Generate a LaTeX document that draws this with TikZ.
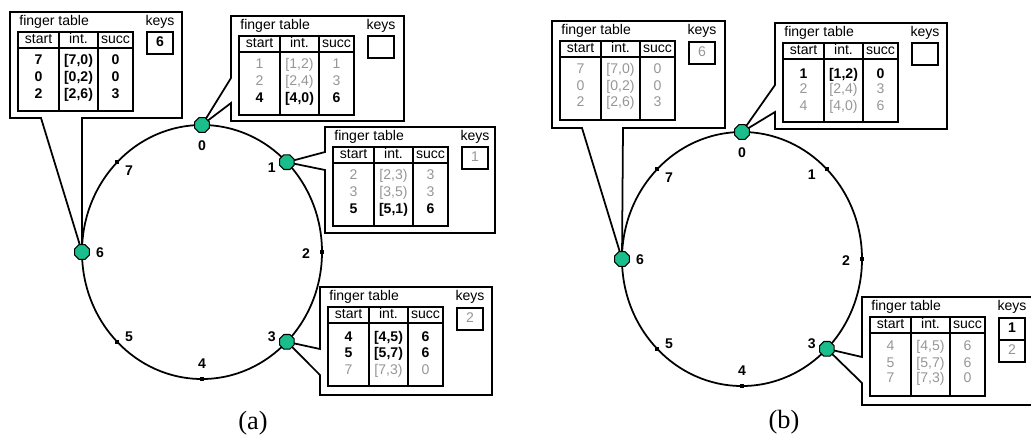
\documentclass[tikz,border=0pt]{standalone}
\usepackage{fontspec}
\setmainfont{Liberation Serif}
\setsansfont{Liberation Sans}
\usetikzlibrary{shapes.geometric}
\definecolor{peergreen}{RGB}{25,190,140}
\definecolor{oldgray}{RGB}{150,150,150}
\tikzset{
  ringline/.style={line width=1pt},
  boxline/.style={line width=1pt, line join=miter},
  gridline/.style={line width=0.9pt},
  headline/.style={line width=1.6pt},
  txt/.style={font=\sffamily\fontsize{8}{9}\selectfont, inner sep=0pt, text height=5.8pt, text depth=1.6pt},
  newv/.style={txt, font=\sffamily\bfseries\fontsize{8}{9}\selectfont},
  oldv/.style={txt, text=oldgray},
  idlabel/.style={newv},
  peer/.style={regular polygon, regular polygon sides=8, draw, line width=0.6pt,
    fill=peergreen, minimum size=9pt, inner sep=0pt},
  tick/.style={rectangle, fill=black, minimum size=2.2pt, inner sep=0pt},
  caption/.style={font=\rmfamily\fontsize{15}{17}\selectfont, inner sep=0pt}
}
% ring of identifiers 0..7: #1 name, #2/#3 centre
\newcommand{\ringlayout}[3]{%
  \draw[ringline] (#2,#3) ellipse [x radius=120, y radius=127];
  \foreach \k/\dx/\dy in {0/0/22, 1/-15/7, 2/-16/3, 3/-15/-4, 4/0/-14, 5/12/-4, 6/18/2, 7/12/10}{
    \coordinate (#1-p\k) at ({#2+120*cos(90-45*\k)},{#3-127*sin(90-45*\k)});
    \node[idlabel] (#1-l\k) at ([shift={(\dx,\dy)}]#1-p\k) {\k};
  }}
% finger table frame: #1 name, #2/#3 top left corner, #4 rows and keys
\newcommand{\ftable}[4]{%
  \begin{scope}[shift={(#2,#3)}]
    \node[txt, anchor=west] (#1-title) at (9,10) {finger table};
    \node[txt] (#1-keys) at (150,10) {keys};
    \draw[gridline] (8,20) rectangle (123,99) (49,20) -- (49,99) (88,20) -- (88,99);
    \draw[headline] (8,36) -- (123,36);
    \node[txt] (#1-start) at (28.5,28) {start};
    \node[txt] (#1-int) at (68.5,28) {int.};
    \node[txt] (#1-succ) at (105.5,28) {succ};
    #4
  \end{scope}}
% one finger: name, y, style, start, interval, successor
\newcommand{\frow}[6]{%
  \node[#3] (#1-s) at (28.5,#2) {#4};
  \node[#3] (#1-i) at (68.5,#2) {#5};
  \node[#3] (#1-c) at (105.5,#2) {#6};}
% one key cell: name, top, style, key
\newcommand{\fkey}[4]{%
  \draw[gridline] (137,#2) rectangle (163,#2+22);
  \node[#3] (#1) at (150,#2+11) {#4};}

\begin{document}
\begin{tikzpicture}[x=0.02cm, y=-0.02cm]
  \useasboundingbox (0,0) rectangle (1031,441);
  \clip (0,0) rectangle (1031,441);
  %
  % (a) after node 6 joins
  \ringlayout{a}{202}{252}
  \draw[boxline] (a-p6) -- (41,118) -- (10,118) -- (10,12) -- (182,12) -- (182,118) -- (82,118) -- cycle;
  \draw[boxline] (a-p0) -- (231,78) -- (231,16) -- (404,16) -- (404,121) -- (231,121) -- (231,103) -- cycle;
  \draw[boxline] (a-p1) -- (325,152) -- (325,127) -- (495,127) -- (495,233) -- (325,233) -- (325,170) -- cycle;
  \draw[boxline] (a-p3) -- (320,349) -- (320,287) -- (492,287) -- (492,395) -- (320,395) -- (320,375) -- cycle;
  \ftable{ta6}{10}{12}{
    \frow{ta6r1}{49}{newv}{7}{[7,0)}{0}
    \frow{ta6r2}{66}{newv}{0}{[0,2)}{0}
    \frow{ta6r3}{83}{newv}{2}{[2,6)}{3}
    \fkey{ta6k1}{20}{newv}{6}}
  \ftable{ta0}{231}{16}{
    \frow{ta0r1}{49}{oldv}{1}{[1,2)}{1}
    \frow{ta0r2}{66}{oldv}{2}{[2,4)}{3}
    \frow{ta0r3}{83}{newv}{4}{[4,0)}{6}
    \fkey{ta0k1}{20}{oldv}{}}
  \ftable{ta1}{325}{127}{
    \frow{ta1r1}{49}{oldv}{2}{[2,3)}{3}
    \frow{ta1r2}{66}{oldv}{3}{[3,5)}{3}
    \frow{ta1r3}{83}{newv}{5}{[5,1)}{6}
    \fkey{ta1k1}{20}{oldv}{1}}
  \ftable{ta3}{320}{287}{
    \frow{ta3r1}{51}{newv}{4}{[4,5)}{6}
    \frow{ta3r2}{67}{newv}{5}{[5,7)}{6}
    \frow{ta3r3}{84}{oldv}{7}{[7,3)}{0}
    \fkey{ta3k1}{21}{oldv}{2}}
  \foreach \k in {0,1,3,6} \node[peer] (a-n\k) at (a-p\k) {};
  \foreach \k in {2,4,5,7} \node[tick] (a-m\k) at (a-p\k) {};
  \node[caption] (capa) at (253,423) {(a)};
  %
  % (b) after node 1 leaves
  \ringlayout{b}{742}{259}
  \draw[boxline] (b-p6) -- (582,128) -- (552,128) -- (552,21) -- (725,21) -- (725,128) -- (623,128) -- cycle;
  \draw[boxline] (b-p0) -- (775,85) -- (775,23) -- (947,23) -- (947,129) -- (775,129) -- (775,112) -- cycle;
  \draw[boxline] (b-p3) -- (862,357) -- (862,297) -- (1040,297) -- (1040,405) -- (862,405) -- (862,383) -- cycle;
  \ftable{tb6}{552}{21}{
    \frow{tb6r1}{49}{oldv}{7}{[7,0)}{0}
    \frow{tb6r2}{66}{oldv}{0}{[0,2)}{0}
    \frow{tb6r3}{82}{oldv}{2}{[2,6)}{3}
    \fkey{tb6k1}{21}{oldv}{6}}
  \ftable{tb0}{775}{23}{
    \frow{tb0r1}{52}{newv}{1}{[1,2)}{0}
    \frow{tb0r2}{67}{oldv}{2}{[2,4)}{3}
    \frow{tb0r3}{84}{oldv}{4}{[4,0)}{6}
    \fkey{tb0k1}{20}{oldv}{}}
  \ftable{tb3}{862}{297}{
    \frow{tb3r1}{50}{oldv}{4}{[4,5)}{6}
    \frow{tb3r2}{67}{oldv}{5}{[5,7)}{6}
    \frow{tb3r3}{82}{oldv}{7}{[7,3)}{0}
    \fkey{tb3k1}{21}{newv}{1}
    \fkey{tb3k2}{43}{oldv}{2}}
  \foreach \k in {0,3,6} \node[peer] (b-n\k) at (b-p\k) {};
  \foreach \k in {1,2,4,5,7} \node[tick] (b-m\k) at (b-p\k) {};
  \node[caption] (capb) at (784,422) {(b)};
\end{tikzpicture}
\end{document}
